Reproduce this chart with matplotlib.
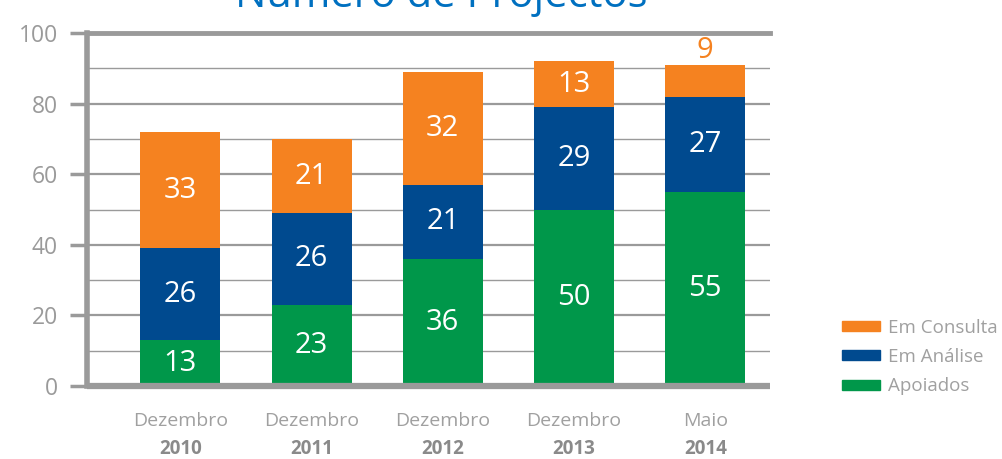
import matplotlib.pyplot as plt
from matplotlib.patches import Patch
from matplotlib.transforms import blended_transform_factory
import numpy as np

months = ["Dezembro", "Dezembro", "Dezembro", "Dezembro", "Maio"]
years = ["2010", "2011", "2012", "2013", "2014"]
apoiados = [13, 23, 36, 50, 55]
em_analise = [26, 26, 21, 29, 27]
em_consulta = [33, 21, 32, 13, 9]

ORANGE = "#F58220"
BLUE = "#004A8F"
GREEN = "#00974A"
GRID = "#9A9A9A"
FONT = ["Open Sans", "DejaVu Sans"]

plt.rcParams["font.family"] = FONT

fig = plt.figure(figsize=(10.02, 4.59), dpi=100)
ax = fig.add_axes([0.087, 0.159, 0.681, 0.769])

x = np.arange(len(years))
w = 0.61
green = np.array(apoiados)
blue = np.array(em_analise)
orange = np.array(em_consulta)

# gridlines
for v in range(10, 100, 10):
    ax.axhline(v, color=GRID, lw=1.6 if v % 20 == 0 else 1.0, zorder=0)
ax.axhline(100, color=GRID, lw=3.5, zorder=0, clip_on=False)

ax.bar(x, green, w, color=GREEN, zorder=2)
ax.bar(x, blue, w, bottom=green, color=BLUE, zorder=2)
ax.bar(x, orange, w, bottom=green + blue, color=ORANGE, zorder=2)

# value labels
for i in range(len(x)):
    ax.text(x[i], green[i] / 2, str(green[i]), ha="center", va="center",
            color="white", fontsize=21)
    ax.text(x[i], green[i] + blue[i] / 2, str(blue[i]), ha="center",
            va="center", color="white", fontsize=21)
    if orange[i] >= 12:
        ax.text(x[i], green[i] + blue[i] + orange[i] / 2, str(orange[i]),
                ha="center", va="center", color="white", fontsize=21)
    else:
        ax.text(x[i], green[i] + blue[i] + orange[i] + 4, str(orange[i]),
                ha="center", va="center", color=ORANGE, fontsize=21)

ax.set_xlim(-0.71, 4.49)
ax.set_ylim(0, 100)
ax.set_yticks(range(0, 101, 20))
ax.set_xticks([])
ax.tick_params(axis="y", length=12, width=2.5, color=GRID, labelcolor="#9A9A9A",
               labelsize=16.5, pad=9)

for s in ["top", "right"]:
    ax.spines[s].set_visible(False)
ax.spines["left"].set_color(GRID)
ax.spines["left"].set_linewidth(4)
ax.spines["bottom"].set_color(GRID)
ax.spines["bottom"].set_linewidth(4.5)
ax.spines["bottom"].set_capstyle("butt")

tr = blended_transform_factory(ax.transData, fig.transFigure)
for i in range(len(x)):
    fig.text(x[i], 1 - 421 / 459, months[i], transform=tr, ha="center",
             va="center", color="#A0A0A0", fontsize=14)
    fig.text(x[i], 1 - 449 / 459, years[i], transform=tr, ha="center",
             va="center", color="#8A8A8A", fontsize=13.5, fontweight="bold")

# title, mostly cut off at the top edge
fig.text(0.44, 1 - 7 / 459, "Número de Projectos", ha="center",
         va="baseline", color="#0070C0", fontsize=30)

handles = [Patch(color=ORANGE, label="Em Consulta"),
           Patch(color=BLUE, label="Em Análise"),
           Patch(color=GREEN, label="Apoiados")]
leg = fig.legend(handles=handles, loc="center left",
                 bbox_to_anchor=(0.833, 1 - 357 / 459), frameon=False,
                 fontsize=13.5, handlelength=2.0, handleheight=0.45,
                 handletextpad=0.45, labelspacing=0.6, borderaxespad=0)
for t in leg.get_texts():
    t.set_color("#A0A0A0")

fig.savefig("out.png", dpi=100)
